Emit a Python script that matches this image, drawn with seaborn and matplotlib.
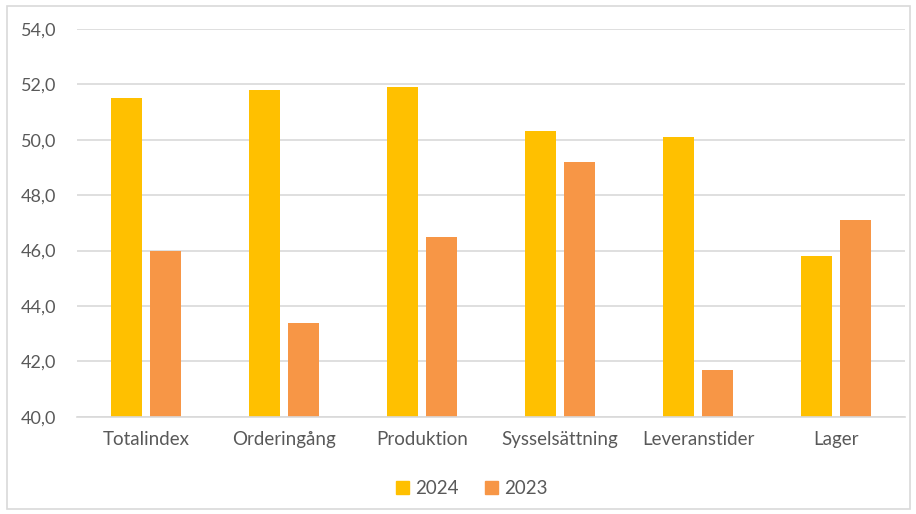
import pandas as pd
import matplotlib.pyplot as plt
import seaborn as sns
from matplotlib.patches import Rectangle, Patch

# data
kategorier = ['Totalindex', 'Orderingång', 'Produktion', 'Sysselsättning', 'Leveranstider', 'Lager']
varden_2024 = [51.5, 51.8, 51.9, 50.3, 50.1, 45.8]
varden_2023 = [46.0, 43.4, 46.5, 49.2, 41.7, 47.1]
ar = ['2024', '2023']

df = pd.DataFrame({
    'kategori': kategorier * 2,
    'ar': [ar[0]] * len(kategorier) + [ar[1]] * len(kategorier),
    'varde': varden_2024 + varden_2023,
})

sns.set_style('white')
plt.rcParams['font.family'] = ['Lato', 'DejaVu Sans']
textfarg = '#595959'
farger = {'2024': '#FFC000', '2023': '#F79646'}

fig = plt.figure(figsize=(9.16, 5.14), dpi=100)
ax = fig.add_axes([0.084, 0.189, 0.904, 0.755])

sns.barplot(data=df, x='kategori', y='varde', hue='ar', palette=farger,
            width=0.57, gap=0.21, ax=ax, legend=False, saturation=1)

# staplarna börjar vid 40
for p in ax.patches:
    h = p.get_height()
    p.set_y(40)
    p.set_height(h - 40)
    p.set_linewidth(0)

ax.set_ylim(40, 54)
ax.set_yticks(range(40, 55, 2))
ax.set_yticklabels([f'{v},0' for v in range(40, 55, 2)])
ax.yaxis.grid(True, color='#d9d9d9', linewidth=1.2)
ax.set_axisbelow(True)
for s in ['top', 'right', 'left']:
    ax.spines[s].set_visible(False)
ax.spines['bottom'].set_color('#d9d9d9')
ax.spines['bottom'].set_linewidth(1.2)
ax.set_xlabel('')
ax.set_ylabel('')
ax.tick_params(axis='both', length=0, labelsize=13.5, labelcolor=textfarg)
ax.tick_params(axis='y', pad=15, labelsize=13)
ax.tick_params(axis='x', pad=10)

handles = [Patch(color=farger[a], label=a) for a in ar]
fig.legend(handles=handles, loc='center', bbox_to_anchor=(0.515, 0.05), ncol=2,
           frameon=False, fontsize=13.5, handlelength=0.7, handleheight=0.7,
           columnspacing=1.4, handletextpad=0.3, labelcolor=textfarg)

# ram runt figuren
fig.patches.append(Rectangle((0.008, 0.01), 0.985, 0.978, transform=fig.transFigure,
                             fill=False, edgecolor='#d9d9d9', linewidth=1.2))

fig.savefig('out.png', dpi=100)
